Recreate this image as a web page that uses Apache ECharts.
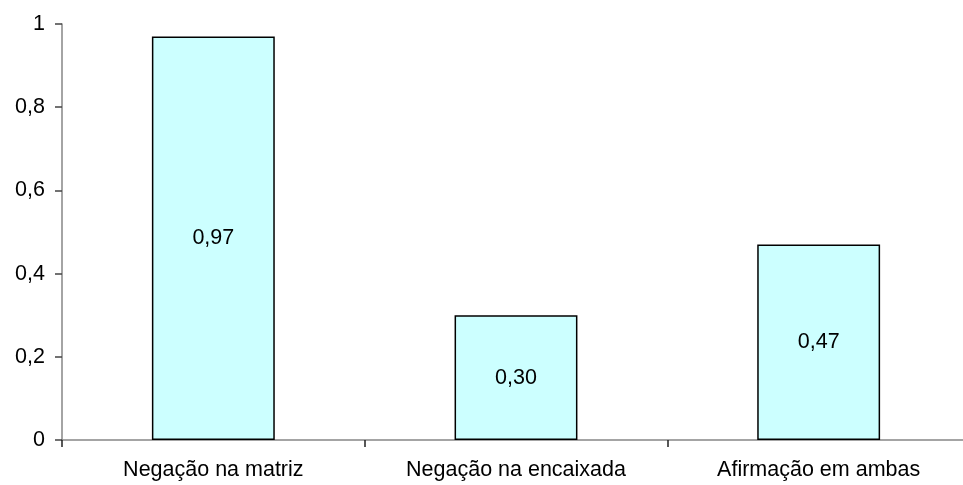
<!DOCTYPE html>
<html>
<head>
<meta charset="utf-8">
<script src="https://cdn.jsdelivr.net/npm/echarts@6/dist/echarts.min.js"></script>
<style>
  html, body { margin: 0; padding: 0; background: #ffffff; }
  #chart { width: 963px; height: 485px; }
</style>
</head>
<body>
<div id="chart"></div>
<script>
const categories = ['Negação na matriz', 'Negação na encaixada', 'Afirmação em ambas'];
const values = [0.97, 0.30, 0.47];
const yTicks = [0, 0.2, 0.4, 0.6, 0.8, 1];

const fmt = v => (v === 0 || v === 1) ? String(v) : v.toFixed(1).replace('.', ',');

const chart = echarts.init(document.getElementById('chart'), null, { renderer: 'canvas' });
chart.setOption({
  animation: false,
  backgroundColor: '#ffffff',
  textStyle: { fontFamily: 'Liberation Sans, Arial, sans-serif' },
  // the plot area runs a little past the right edge of the canvas
  grid: { left: 62, width: 908, top: 24, height: 416, containLabel: false, outerBoundsMode: 'none' },
  xAxis: {
    type: 'category',
    data: categories,
    boundaryGap: true,
    axisLine: { lineStyle: { color: '#868686', width: 1.5 } },
    axisTick: { show: true, inside: false, length: 7, interval: 0, lineStyle: { color: '#222', width: 1.5 } },
    axisLabel: { color: '#000', fontSize: 21.5, margin: 19, interval: 0 },
    splitLine: { show: false }
  },
  yAxis: {
    type: 'value',
    min: yTicks[0],
    max: yTicks[yTicks.length - 1],
    interval: 0.2,
    axisLine: { show: true, lineStyle: { color: '#868686', width: 1.5 } },
    axisTick: { show: true, length: 7, lineStyle: { color: '#444', width: 1.5 } },
    axisLabel: { color: '#000', fontSize: 21.5, margin: 17, formatter: fmt },
    splitLine: { show: false }
  },
  series: [{
    type: 'bar',
    data: values,
    barWidth: '40.6%',
    itemStyle: { color: '#ccffff', borderColor: '#000', borderWidth: 1.5 },
    label: {
      show: true,
      position: 'inside',
      color: '#000',
      fontSize: 21.5,
      formatter: p => p.value.toFixed(2).replace('.', ',')
    }
  }]
});
</script>
</body>
</html>
